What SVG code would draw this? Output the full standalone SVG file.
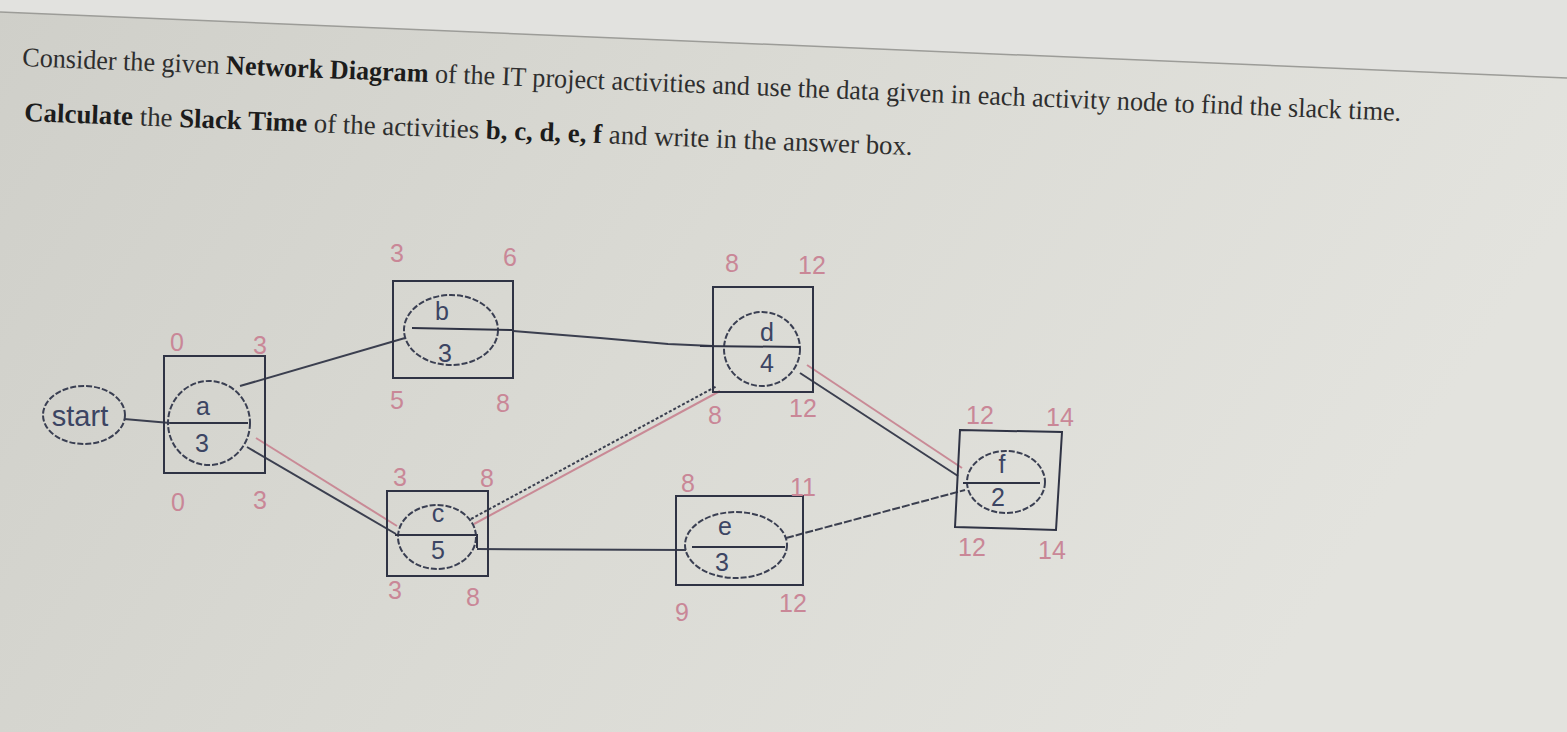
<svg xmlns="http://www.w3.org/2000/svg" width="1567" height="732" viewBox="0 0 1567 732">
<defs>
<linearGradient id="bg" x1="0" y1="0" x2="1" y2="0.3">
<stop offset="0" stop-color="#cfcfc9"/>
<stop offset="0.5" stop-color="#dadad4"/>
<stop offset="1" stop-color="#e3e3de"/>
</linearGradient>
<style>
.q{font-family:"Liberation Serif","Times New Roman",serif;font-size:27px;fill:#2e2e2e}
.q .b{font-weight:bold;fill:#1c1c1c}
.box{fill:none;stroke:#2f3344;stroke-width:2}
.ell{fill:none;stroke:#3a3f52;stroke-width:2;stroke-dasharray:6 2}
.mid{fill:none;stroke:#2f3344;stroke-width:2}
.lab{font-family:"Liberation Sans",Arial,sans-serif;font-size:25px;fill:#3c4563;text-anchor:middle}
.num{font-family:"Liberation Sans",Arial,sans-serif;font-size:25px;fill:#c98797;text-anchor:middle}
.dk{fill:none;stroke:#3b3f4f;stroke-width:2}
.pk{fill:none;stroke:#c98a96;stroke-width:2}
</style>
</defs>
<rect x="0" y="0" width="1567" height="732" fill="url(#bg)"/>
<polygon points="0,0 1567,0 1567,78 0,12" fill="#e2e2df"/>
<line x1="0" y1="12" x2="1567" y2="78" stroke="#9c9c98" stroke-width="1.5"/>

<g id="question">
<text class="q" x="22" y="66" transform="rotate(2.28 22 66)" textLength="1380" lengthAdjust="spacingAndGlyphs">Consider the given <tspan class="b">Network Diagram</tspan> of the IT project activities and use the data given in each activity node to find the slack time.</text>
<text class="q" x="24" y="121" transform="rotate(2.2 24 121)" textLength="889" lengthAdjust="spacingAndGlyphs"><tspan class="b">Calculate</tspan> the <tspan class="b">Slack Time</tspan> of the activities <tspan class="b">b, c, d, e, f</tspan>  and write in the answer box.</text>
</g>

<g id="connectors">
<line class="dk" x1="124" y1="419" x2="170" y2="423"/>
<line class="dk" x1="240" y1="386" x2="405" y2="338"/>
<line class="pk" x1="256" y1="438" x2="397" y2="526"/>
<line class="dk" x1="247" y1="447" x2="396" y2="534"/>
<polyline class="dk" points="513,331 600,338 668,344 713,346"/>
<line class="pk" x1="474" y1="524" x2="720" y2="391" stroke-width="3"/>
<line class="dk" x1="471" y1="519" x2="717" y2="386" stroke-dasharray="3 2"/>
<line class="dk" x1="477" y1="549" x2="686" y2="550"/>
<line class="pk" x1="807" y1="365" x2="962" y2="468"/>
<line class="dk" x1="800" y1="373" x2="958" y2="476"/>
<line class="dk" x1="786" y1="538" x2="965" y2="490" stroke-dasharray="8 2"/>
</g>

<g id="start">
<ellipse class="ell" cx="84" cy="415" rx="41" ry="29"/>
<text class="lab" x="80" y="426" style="font-size:29px">start</text>
</g>

<g id="node-a">
<rect class="box" x="164" y="356" width="101" height="117"/>
<ellipse class="ell" cx="209" cy="423" rx="41" ry="42"/>
<line class="mid" x1="170" y1="423" x2="248" y2="423"/>
<text class="lab" x="203" y="415">a</text>
<text class="lab" x="202" y="452">3</text>
<text class="num" x="177" y="351">0</text>
<text class="num" x="260" y="354">3</text>
<text class="num" x="178" y="511">0</text>
<text class="num" x="260" y="509">3</text>
</g>

<g id="node-b">
<rect class="box" x="393" y="281" width="120" height="97"/>
<ellipse class="ell" cx="451" cy="330" rx="47" ry="35"/>
<line class="mid" x1="412" y1="328" x2="513" y2="330"/>
<text class="lab" x="442" y="320">b</text>
<text class="lab" x="445" y="362">3</text>
<text class="num" x="397" y="262">3</text>
<text class="num" x="510" y="266">6</text>
<text class="num" x="397" y="409">5</text>
<text class="num" x="503" y="412">8</text>
</g>

<g id="node-c">
<rect class="box" x="387" y="491" width="101" height="85"/>
<ellipse class="ell" cx="437" cy="537" rx="39" ry="32"/>
<polyline class="mid" points="395,535 477,535 477,548"/>
<text class="lab" x="438" y="522">c</text>
<text class="lab" x="438" y="559">5</text>
<text class="num" x="400" y="486">3</text>
<text class="num" x="487" y="487">8</text>
<text class="num" x="395" y="599">3</text>
<text class="num" x="473" y="606">8</text>
</g>

<g id="node-d">
<rect class="box" x="713" y="287" width="100" height="105"/>
<ellipse class="ell" cx="762" cy="349" rx="38" ry="37"/>
<line class="mid" x1="700" y1="346" x2="800" y2="347"/>
<text class="lab" x="767" y="341">d</text>
<text class="lab" x="767" y="372">4</text>
<text class="num" x="732" y="272">8</text>
<text class="num" x="812" y="274">12</text>
<text class="num" x="715" y="424">8</text>
<text class="num" x="803" y="417">12</text>
</g>

<g id="node-e">
<rect class="box" x="676" y="496" width="127" height="89"/>
<ellipse class="ell" cx="736" cy="545" rx="51" ry="33"/>
<line class="mid" x1="692" y1="547" x2="785" y2="547"/>
<text class="lab" x="725" y="535">e</text>
<text class="lab" x="722" y="571">3</text>
<text class="num" x="688" y="492">8</text>
<text class="num" x="803" y="496">11</text>
<text class="num" x="682" y="621">9</text>
<text class="num" x="793" y="612">12</text>
</g>

<g id="node-f">
<polygon class="box" points="960,430 1062,432 1056,530 955,527"/>
<ellipse class="ell" cx="1006" cy="482" rx="39" ry="31"/>
<line class="mid" x1="963" y1="483" x2="1040" y2="483"/>
<text class="lab" x="1002" y="473">f</text>
<text class="lab" x="998" y="506">2</text>
<text class="num" x="980" y="424">12</text>
<text class="num" x="1060" y="426">14</text>
<text class="num" x="972" y="556">12</text>
<text class="num" x="1052" y="559">14</text>
</g>
</svg>
